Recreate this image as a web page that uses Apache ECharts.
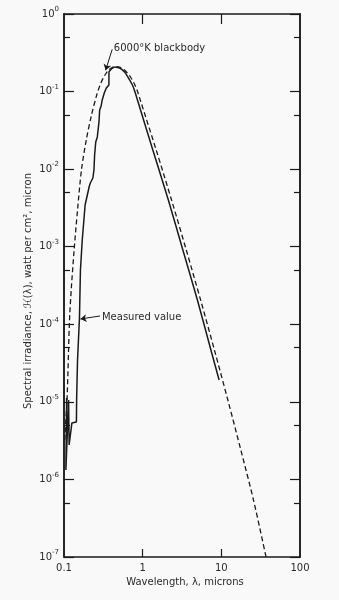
<!DOCTYPE html>
<html><head><meta charset="utf-8">
<script src="https://cdn.jsdelivr.net/npm/echarts@6/dist/echarts.min.js"></script>
<style>html,body{margin:0;padding:0;background:#f9f9f9;}#c{width:339px;height:600px;}</style>
</head><body><div id="c"></div>
<script>
// 6000°K blackbody (dashed), wavelength in microns, irradiance in watt/cm²/micron
const blackbodyWavelength = [0.102, 0.1095, 0.1171, 0.1235, 0.1345, 0.1486, 0.1667, 0.1919, 0.2239, 0.2608, 0.2943, 0.3318, 0.3681, 0.4083, 0.4525, 0.5237, 0.6058, 0.7003, 0.7859, 0.8565, 0.9328, 1.486, 2.329, 3.584, 5.449, 8.168, 12.10, 17.71, 25.63, 37.0];
const blackbodyIrradiance = [3.22e-6, 1.12e-5, 1.04e-4, 2.77e-4, 9.07e-4, 2.97e-3, 9.75e-3, 0.0238, 0.0499, 0.0903, 0.129, 0.1635, 0.1897, 0.2043, 0.2105, 0.2043, 0.1842, 0.1541, 0.1252, 0.1017, 0.0778, 0.01765, 0.0040, 9.07e-4, 2.06e-4, 4.66e-5, 1.056e-5, 2.39e-6, 5.43e-7, 1.0e-7];
// Measured value (solid): jagged ultraviolet/visible part up to the peak, then the smooth infrared part
const measuredWavelength = [0.108, 0.1057, 0.1104, 0.1144, 0.1178, 0.1162, 0.1215, 0.1259, 0.1438, 0.1447, 0.1486, 0.1572, 0.1618, 0.1706, 0.1855, 0.21, 0.2163, 0.2328, 0.2404, 0.245, 0.2533, 0.2652, 0.2783, 0.284, 0.2965, 0.306, 0.325, 0.345, 0.372, 0.373, 0.385, 0.405, 0.44, 0.5085, 0.5882, 0.6603, 0.741, 0.807, 0.8666, 1.346, 2.121, 3.243, 4.963, 7.37, 9.37];
const measuredIrradiance = [1.12e-5, 1.32e-6, 1.32e-6, 1.057e-5, 1.057e-5, 2.78e-6, 2.78e-6, 5.33e-6, 5.5e-6, 1.057e-5, 3.46e-5, 1.205e-4, 5.01e-4, 1.22e-3, 3.45e-3, 6.06e-3, 6.63e-3, 7.69e-3, 9.75e-3, 0.0152, 0.0224, 0.026, 0.0405, 0.0579, 0.0652, 0.0779, 0.0959, 0.111, 0.1216, 0.18, 0.184, 0.198, 0.208, 0.2012, 0.1788, 0.1496, 0.1215, 0.0958, 0.0755, 0.01765, 0.0040, 9.07e-4, 2.06e-4, 4.66e-5, 1.91e-5];
const measuredPeakIndex = 32;
// Axis ticks
const xTickValues = [0.1, 1, 10, 100];
const xTickLabels = ['0.1', '1', '10', '100'];
const xInnerTicks = [1, 10];
const yTickExponents = [0, -1, -2, -3, -4, -5, -6, -7];
const yMinorTickValues = [5e-1, 5e-2, 5e-3, 5e-4, 5e-5, 5e-6, 5e-7];
// Texts
const xAxisTitle = 'Wavelength, λ, microns';
const yAxisTitle = 'Spectral irradiance, ℋ(λ), watt per cm², micron';
const blackbodyLabel = '6000°K blackbody';
const measuredLabel = 'Measured value';

const ink = '#1a1a1a';
const textColor = '#2a2a2a';
const font = 'DejaVu Sans';
const yMajorValues = yTickExponents.map(e => Math.pow(10, e));

function yAxis(position, values, len, labels) {
  return {
    type: 'log', logBase: 10, min: 1e-7, max: 1, position: position, splitNumber: 7,
    axisLine: {show: true, lineStyle: {color: ink, width: 1.5}},
    axisTick: {show: true, inside: true, length: len, customValues: values, lineStyle: {color: ink, width: 1.2}},
    axisLabel: labels ? {
      show: true, customValues: values, margin: 5, color: textColor, fontFamily: font,
      formatter: function (v) {
        const e = Math.round(Math.log10(v));
        return '{b|10}{s|' + (e === 0 ? '0' : '-' + (-e)) + '}';
      },
      rich: {
        b: {fontSize: 10, lineHeight: 16, fontFamily: font, color: textColor},
        s: {fontSize: 7, lineHeight: 8, verticalAlign: 'top', fontFamily: font, color: textColor}
      }
    } : {show: false},
    splitLine: {show: false}, minorTick: {show: false}
  };
}
function xAxis(position, len, labels) {
  return {
    type: 'log', logBase: 10, min: 0.1, max: 100, position: position,
    axisLine: {show: true, lineStyle: {color: ink, width: 1.5}},
    axisTick: {show: true, inside: true, length: len, customValues: xInnerTicks, lineStyle: {color: ink, width: 1.2}},
    axisLabel: labels ? {
      show: true, customValues: xTickValues, margin: 6, fontSize: 10, color: textColor, fontFamily: font,
      formatter: function (v) { const i = xTickValues.findIndex(t => Math.abs(Math.log10(t) - Math.log10(v)) < 1e-6); return i >= 0 ? xTickLabels[i] : ''; }
    } : {show: false},
    name: labels ? xAxisTitle : '', nameLocation: 'middle', nameGap: 17,
    nameTextStyle: {fontSize: 10, color: textColor, fontFamily: font, padding: [0, 0, 0, 6]},
    splitLine: {show: false}, minorTick: {show: false}
  };
}

const measuredPairs = measuredWavelength.map((w, i) => [w, measuredIrradiance[i]]);
const solidStyle = {color: ink, width: 1.5, type: 'solid'};

const chart = echarts.init(document.getElementById('c'), null, {renderer: 'canvas'});
chart.setOption({
  animation: false,
  backgroundColor: '#f9f9f9',
  grid: {left: 64, right: 39, top: 14, bottom: 43},
  xAxis: [xAxis('bottom', 8, true), xAxis('top', 10, false)],
  yAxis: [yAxis('left', yMajorValues, 10, true), yAxis('left', yMinorTickValues, 6, false),
          yAxis('right', yMajorValues, 10, false), yAxis('right', yMinorTickValues, 6, false)],
  graphic: [{
    type: 'text', x: 28, y: 291, rotation: Math.PI / 2,
    style: {text: yAxisTitle, fontSize: 10, fontFamily: font, fill: textColor, align: 'center', verticalAlign: 'middle'}
  }],
  series: [
    {
      type: 'line', name: blackbodyLabel, xAxisIndex: 0, yAxisIndex: 0, showSymbol: false, silent: true, smooth: 0.3,
      data: blackbodyWavelength.map((w, i) => [w, blackbodyIrradiance[i]]),
      lineStyle: {color: ink, width: 1.3, type: [5, 3]},
      markLine: {
        silent: true, symbol: ['none', 'arrow'], symbolSize: 6, label: {show: false},
        lineStyle: {color: ink, width: 1, type: 'solid', curveness: 0.15},
        data: [[{coord: [0.41, 0.35]}, {coord: [0.338, 0.188]}]]
      },
      markPoint: {
        silent: true, symbol: 'circle', symbolSize: 0,
        label: {show: true, position: 'right', distance: 0, formatter: blackbodyLabel, fontSize: 10, fontFamily: font, color: textColor},
        data: [{coord: [0.43, 0.365]}]
      }
    },
    {
      type: 'line', name: measuredLabel, xAxisIndex: 0, yAxisIndex: 0, showSymbol: false, silent: true,
      data: measuredPairs.slice(0, measuredPeakIndex + 1),
      lineStyle: solidStyle,
      markLine: {
        silent: true, symbol: ['none', 'arrow'], symbolSize: 6, label: {show: false},
        lineStyle: {color: ink, width: 1, type: 'solid', curveness: 0},
        data: [[{coord: [0.287, 1.28e-4]}, {coord: [0.1619, 1.17e-4]}]]
      },
      markPoint: {
        silent: true, symbol: 'circle', symbolSize: 0,
        label: {show: true, position: 'right', distance: 0, formatter: measuredLabel, fontSize: 10, fontFamily: font, color: textColor},
        data: [{coord: [0.304, 1.24e-4]}]
      }
    },
    {
      type: 'line', name: measuredLabel, xAxisIndex: 0, yAxisIndex: 0, showSymbol: false, silent: true, smooth: 0.3,
      data: measuredPairs.slice(measuredPeakIndex),
      lineStyle: solidStyle
    }
  ]
});
</script></body></html>
